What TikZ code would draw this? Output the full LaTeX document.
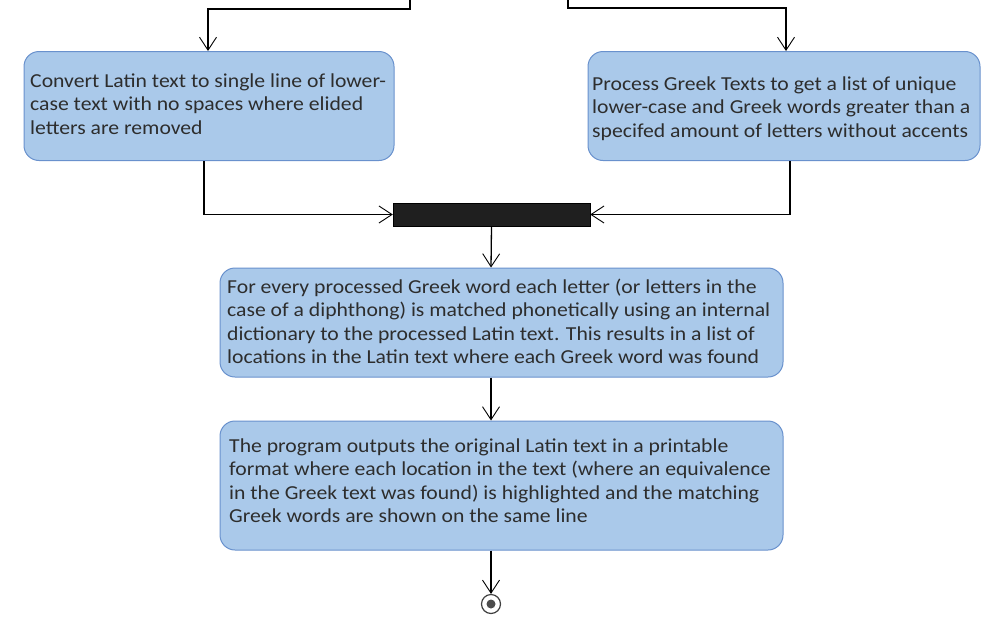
\documentclass[tikz,border=0pt]{standalone}
\usepackage{fontspec}
\setmainfont{Carlito}[FakeStretch=1.095]
\usetikzlibrary{arrows.meta}
\definecolor{boxfill}{RGB}{170,201,234}
\definecolor{boxline}{RGB}{105,145,205}
\definecolor{txt}{RGB}{45,45,45}
\begin{document}
\begin{tikzpicture}[x=1pt,y=-1pt,
  act/.style={draw=boxline,fill=boxfill,line width=1pt,rounded corners=15pt,inner sep=0pt},
  lbl/.style={anchor=base west,align=left,inner sep=0pt,text=txt,font=\fontsize{19.8}{23.5}\selectfont},
  flow/.style={line width=1.3pt,-{Straight Barb[length=13pt,width=17pt,line width=0.9pt]}},
  bar/.style={fill=black!88,draw=black,inner sep=0pt}]
\useasboundingbox (0,0) rectangle (1008,632);
% boxes
\node[act,minimum width=370pt,minimum height=109pt] (latin) at (209,106) {};
\node[act,minimum width=392pt,minimum height=109pt] (greek) at (784,106) {};
\node[bar,minimum width=197pt,minimum height=23pt] (join) at (491.5,214.5) {};
\node[act,minimum width=563pt,minimum height=109pt] (match) at (501.5,322.5) {};
\node[act,minimum width=563pt,minimum height=129pt] (out) at (501.5,485.5) {};
\node[circle,draw=black!75,line width=1.2pt,minimum size=19pt,inner sep=0pt] (end) at (491,604) {};
\node[circle,fill=black!70,minimum size=9pt,inner sep=0pt] (endin) at (end) {};
% texts (anchored at the baseline of the last line)
\node[lbl] (tlatin) at (30,134) {Convert Latin text to single line of lower-\\case text with no spaces where elided\\letters are removed};
\node[lbl] (tgreek) at (592,137) {Process Greek Texts to get a list of unique\\lower-case and Greek words greater than a\\specifed amount of letters without accents};
\node[lbl] (tmatch) at (227,363.5) {For every processed Greek word each letter (or letters in the\\case of a diphthong) is matched phonetically using an internal\\dictionary to the processed Latin text. This results in a list of\\locations in the Latin text where each Greek word was found};
\node[lbl] (tout) at (229,522.5) {The program outputs the original Latin text in a printable\\format where each location in the text (where an equivalence\\in the Greek text was found) is highlighted and the matching\\Greek words are shown on the same line};
% incoming connectors from above
\coordinate (inL) at (410,0);
\coordinate (inR) at (568,0);
\draw[flow] (inL) |- (208,9) -- (208,0 |- latin.north);
\draw[flow] (inR) |- (786,8) -- (786,0 |- greek.north);
% to join bar
\draw[flow] (204,0 |- latin.south) |- (join.west);
\draw[flow] (790,0 |- greek.south) |- (join.east);
\draw[flow] (join.south) -- (491,0 |- match.north);
\draw[flow] (491,0 |- match.south) -- (491,0 |- out.north);
\draw[flow] (491,0 |- out.south) -- (end.north);
\end{tikzpicture}
\end{document}
